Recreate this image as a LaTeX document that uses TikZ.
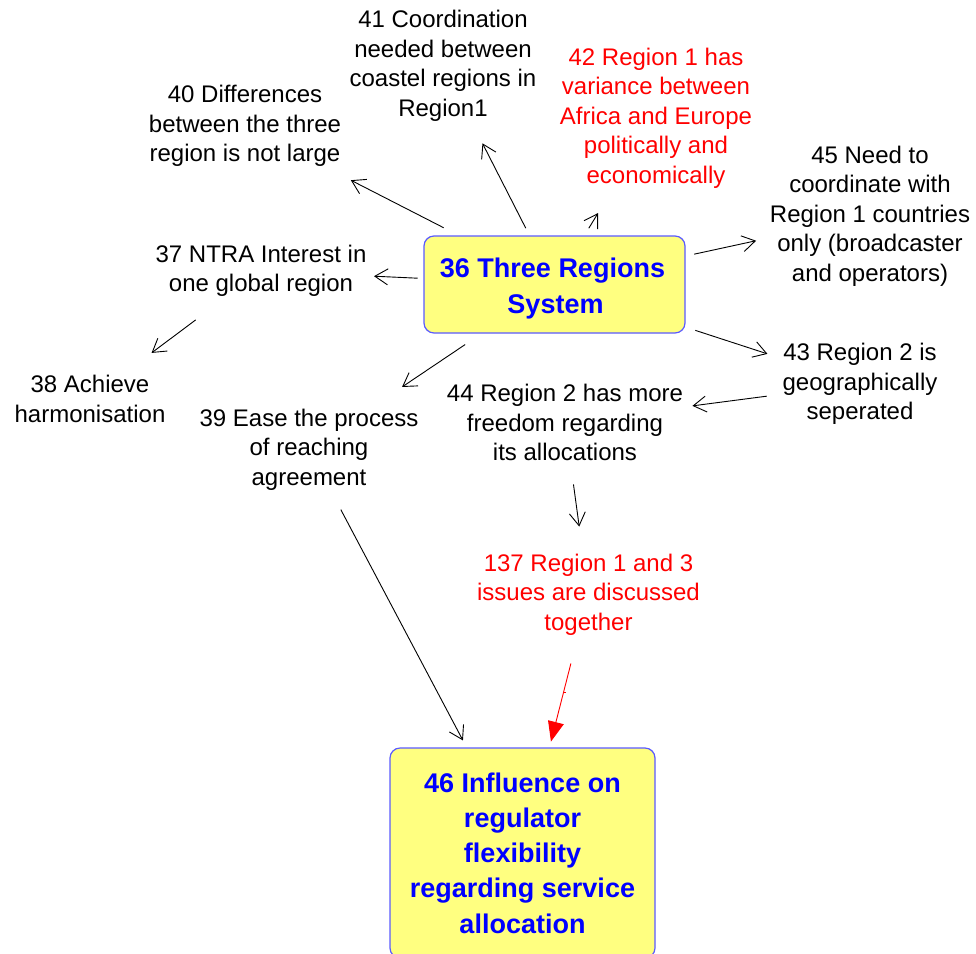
\documentclass[tikz,border=0pt]{standalone}
\usepackage{fontspec}
\setmainfont{Liberation Sans}
\usetikzlibrary{arrows.meta,calc}
\definecolor{boxfill}{RGB}{255,255,128}
\definecolor{boxdraw}{RGB}{90,90,255}
\begin{document}
\begin{tikzpicture}[x=1pt,y=-1pt,
 lbl/.style={align=center,font=\fontsize{24}{29.5}\selectfont,inner sep=0pt,yshift=-2pt},
 redlbl/.style={lbl,text=red},
 boxtext/.style={align=center,text=blue,inner sep=0pt,font=\fontsize{27}{35.3}\selectfont\bfseries},
 mainbox/.style={draw=boxdraw,fill=boxfill,rounded corners=10pt,line width=1.2pt,boxtext},
 arr/.style={-{Straight Barb[length=13pt,width=16pt]},line width=0.9pt},
 redarr/.style={-{Triangle[length=20pt,width=16pt]},red,line width=0.9pt}]
\useasboundingbox (0,0) rectangle (976,953);
\begin{scope}
\clip (0,0) rectangle (976,953);
\node[mainbox,minimum width=261pt,minimum height=97pt,
  label={[boxtext,yshift=-4pt,xshift=-2pt]center:36 Three Regions\\\hspace*{6pt}System}] (n36) at (554.5,284.5) {};
\node[mainbox,minimum width=265pt,minimum height=210pt] (n46) at (522.5,853) {46 Influence on\\regulator\\flexibility\\regarding service\\allocation};
\end{scope}
\node[lbl] (n41) at (443,64) {41 Coordination\\needed between\\coastel regions in\\Region1};
\node[redlbl] (n42) at (656,116) {42 Region 1 has\\variance between\\Africa and Europe\\politically and\\economically};
\node[lbl] (n40) at (245,124) {40 Differences\\between the three\\region is not large};
\node[lbl] (n45) at (870,214) {45 Need to\\coordinate with\\Region 1 countries\\only (broadcaster\\and operators)};
\node[lbl] (n37) at (261,269) {37 NTRA Interest in\\one global region};
\node[lbl] (n38) at (90,397) {38 Achieve\\harmonisation};
\node[lbl] (n39) at (309,447.5) {39 Ease the process\\of reaching\\agreement};
\node[lbl] (n44) at (565,420.5) {44 Region 2 has more\\freedom regarding\\its allocations};
\node[lbl] (n43) at (860,382) {43 Region 2 is\\geographically\\seperated};
\node[redlbl] (n137) at (588.5,592.5) {137 Region 1 and 3\\issues are discussed\\together};
% connectors
\draw[arr] ($(n36)!0.258!(n41)$) -- ($(n36)!0.646!(n41)$);
\draw[arr] ($(n36)!0.338!(n42)$) -- ($(n36)!0.429!(n42)$);
\draw[arr] ($(n36)!0.358!(n40)$) -- ($(n36)!0.658!(n40)$);
\draw[arr] ($(n36)!0.466!(n37)$) -- ($(n36)!0.615!(n37)$);
\draw[arr] ($(n36)!0.364!(n39)$) -- ($(n36)!0.621!(n39)$);
\draw[arr] ($(n36)!0.443!(n45)$) -- ($(n36)!0.639!(n45)$);
\draw[arr] ($(n36)!0.461!(n43)$) -- ($(n36)!0.697!(n43)$);
\draw[arr] ($(n37)!0.382!(n38)$) -- ($(n37)!0.640!(n38)$);
\draw[arr] ($(n43)!0.316!(n44)$) -- ($(n43)!0.568!(n44)$);
\draw[arr] ($(n44)!0.360!(n137)$) -- ($(n44)!0.605!(n137)$);
\draw[arr] ($(n39)!0.149!(n46)$) -- ($(n39)!0.721!(n46)$);
\draw[redarr] ($(n137)!0.267!(n46)$) coordinate (rs) -- ($(n137)!0.569!(n46)$);
\draw[red,line width=0.6pt] ($(n137)!0.380!(n46)$) coordinate (tk) -- ($(tk)+(3,0)$);
\end{tikzpicture}
\end{document}
